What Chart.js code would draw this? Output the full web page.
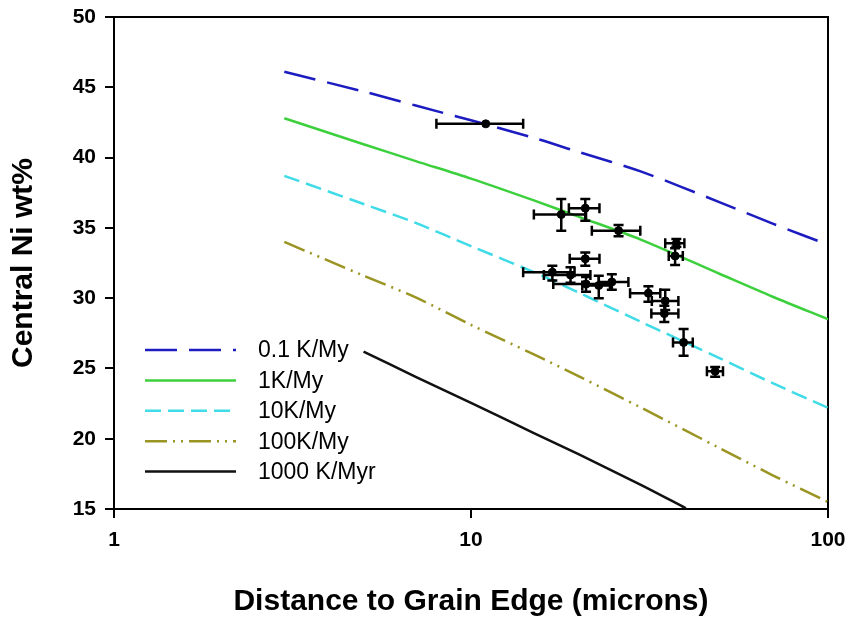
<!DOCTYPE html>
<html>
<head>
<meta charset="utf-8">
<script src="https://cdn.jsdelivr.net/npm/chart.js@4"></script>
<style>
  html, body { margin: 0; background: #fff; }
  #wrap { width: 852px; height: 624px; }
</style>
</head>
<body>
<div id="wrap"><canvas id="grafico"></canvas></div>
<script>
// Model curves (x = distance in microns, y = central Ni wt%)
const curveX = [3, 5, 7, 10, 15, 20, 30, 50, 70, 100];
const rate01 = [46.1, 44.7, 43.7, 42.65, 41.4, 40.4, 39.0, 36.8, 35.3, 33.8];
const rate1 = [42.8, 40.95, 39.75, 38.5, 36.95, 35.8, 34.15, 31.7, 30.1, 28.5];
const rate10 = [38.7, 36.7, 35.35, 33.7, 31.85, 30.4, 28.3, 25.7, 23.95, 22.2];
const rate100 = [34.0, 31.6, 30.05, 28.1, 26.0, 24.45, 22.2, 19.3, 17.4, 15.5];
const blackX = [5, 7, 10, 15, 20, 30, 40];
const rate1000 = [26.2, 24.4, 22.55, 20.4, 18.9, 16.7, 15.05];

// Measured grains with error bars
const grainX = [11.0, 17.9, 20.9, 25.9, 20.9, 16.9, 19.0, 21.0, 22.8, 24.8, 37.6, 37.3, 31.4, 35.0, 34.8, 39.4, 48.3];
const grainY = [42.4, 35.95, 36.4, 34.8, 32.8, 31.85, 31.65, 31.0, 30.9, 31.15, 33.9, 33.0, 30.35, 29.8, 28.9, 26.85, 24.8];
const xLow = [8.0, 15.0, 18.8, 21.8, 18.9, 14.0, 16.0, 17.0, 20.5, 22.8, 35.0, 35.8, 27.9, 32.1, 32.0, 36.8, 45.8];
const xHigh = [14.0, 21.0, 22.9, 29.8, 22.9, 19.5, 21.6, 24.5, 24.8, 27.6, 39.6, 39.2, 33.9, 38.1, 38.1, 41.8, 50.8];
const yLow = [42.4, 34.8, 35.5, 34.4, 32.3, 31.25, 31.1, 30.45, 30.0, 30.6, 33.65, 32.35, 29.75, 29.15, 28.3, 25.9, 24.4];
const yHigh = [42.4, 37.05, 37.05, 35.2, 33.25, 32.3, 32.2, 31.5, 31.6, 31.7, 34.2, 33.55, 30.85, 30.6, 29.45, 27.8, 25.1];

const xTicks = [1, 10, 100];
const legendLabels = ["0.1 K/My", "1K/My", "10K/My", "100K/My", "1000 K/Myr"];

const fonte = "'Liberation Sans', Arial, sans-serif";

function linha(xs, ys) {
  return xs.map((x, i) => ({ x: x, y: ys[i] }));
}

const curvas = [
  { data: linha(curveX, rate01), borderColor: "#1c1cc0", borderDash: [32, 12] },
  { data: linha(curveX, rate1), borderColor: "#3dd03d", borderDash: [] },
  { data: linha(curveX, rate10), borderColor: "#3fdbe6", borderDash: [16, 7] },
  { data: linha(curveX, rate100), borderColor: "#9a9422", borderDash: [22, 6, 2, 6, 2, 6] },
  { data: linha(blackX, rate1000), borderColor: "#111111", borderDash: [] },
];

// Moldura em volta da área do gráfico
const moldura = {
  id: "moldura",
  beforeDatasetsDraw(chart) {
    const a = chart.chartArea;
    const ctx = chart.ctx;
    ctx.save();
    ctx.strokeStyle = "#000";
    ctx.lineWidth = 2;
    ctx.strokeRect(a.left, a.top, a.right - a.left, a.bottom - a.top);
    ctx.restore();
  },
};

// Barras de erro desenhadas pelas escalas do chart
const barrasErro = {
  id: "barrasErro",
  afterDatasetsDraw(chart) {
    const sx = chart.scales.x;
    const sy = chart.scales.y;
    const ctx = chart.ctx;
    ctx.save();
    ctx.strokeStyle = "#000";
    ctx.lineWidth = 2.5;
    for (let i = 0; i < grainX.length; i++) {
      const px = sx.getPixelForValue(grainX[i]);
      const py = sy.getPixelForValue(grainY[i]);
      const x0 = sx.getPixelForValue(xLow[i]);
      const x1 = sx.getPixelForValue(xHigh[i]);
      const y0 = sy.getPixelForValue(yLow[i]);
      const y1 = sy.getPixelForValue(yHigh[i]);
      ctx.beginPath();
      ctx.moveTo(x0, py); ctx.lineTo(x1, py);
      ctx.moveTo(x0, py - 5); ctx.lineTo(x0, py + 5);
      ctx.moveTo(x1, py - 5); ctx.lineTo(x1, py + 5);
      if (y0 - y1 > 1) {
        ctx.moveTo(px, y0); ctx.lineTo(px, y1);
        ctx.moveTo(px - 5, y0); ctx.lineTo(px + 5, y0);
        ctx.moveTo(px - 5, y1); ctx.lineTo(px + 5, y1);
      }
      ctx.stroke();
    }
    ctx.restore();
  },
};

// Legenda dentro da área do gráfico
const legenda = {
  id: "legenda",
  afterDraw(chart) {
    const ctx = chart.ctx;
    ctx.save();
    ctx.font = "23px " + fonte;
    ctx.textBaseline = "middle";
    ctx.fillStyle = "#000";
    curvas.forEach((c, i) => {
      const y = 350 + i * 30.4;
      ctx.strokeStyle = c.borderColor;
      ctx.lineWidth = 2.5;
      ctx.setLineDash(c.borderDash);
      ctx.beginPath();
      ctx.moveTo(145, y);
      ctx.lineTo(236, y);
      ctx.stroke();
      ctx.setLineDash([]);
      ctx.fillText(legendLabels[i], 258, y + 1);
    });
    ctx.restore();
  },
};

const eixo = {
  grid: { display: true, drawOnChartArea: false, drawTicks: true, tickLength: 9, color: "#000", lineWidth: 2 },
  border: { display: true, color: "#000", width: 2 },
};

new Chart(document.querySelector("#grafico"), {
  type: "scatter",
  data: {
    datasets: [
      {
        data: linha(grainX, grainY),
        showLine: false,
        pointRadius: 4,
        pointBackgroundColor: "#000",
        pointBorderColor: "#000",
      },
      ...curvas.map((c) => ({
        data: c.data,
        showLine: true,
        borderColor: c.borderColor,
        borderDash: c.borderDash,
        borderWidth: 2.5,
        pointRadius: 0,
        tension: 0.3,
        fill: false,
      })),
    ],
  },
  options: {
    responsive: true,
    maintainAspectRatio: false,
    animation: false,
    devicePixelRatio: 1,
    layout: { padding: { top: 17, right: 24, left: 0, bottom: 0 } },
    plugins: { legend: { display: false }, tooltip: { enabled: false } },
    scales: {
      x: {
        type: "logarithmic",
        min: 1,
        max: 100,
        afterBuildTicks(scale) {
          scale.ticks = xTicks.map((v) => ({ value: v }));
        },
        afterFit(scale) {
          scale.height = 115;
          scale.paddingLeft = 0;
          scale.paddingRight = 0;
        },
        ticks: {
          color: "#000",
          font: { family: fonte, size: 21, weight: "bold" },
          padding: 10,
          maxRotation: 0,
          callback: (v) => String(v),
        },
        title: {
          display: true,
          text: "Distance to Grain Edge (microns)",
          color: "#000",
          font: { family: fonte, size: 30, weight: "bold" },
          padding: { top: 0, bottom: 4 },
        },
        ...eixo,
      },
      y: {
        type: "linear",
        min: 15,
        max: 50,
        afterFit(scale) {
          scale.width = 114;
          scale.paddingTop = 0;
          scale.paddingBottom = 0;
        },
        ticks: {
          stepSize: 5,
          color: "#000",
          font: { family: fonte, size: 21, weight: "bold" },
          padding: 9,
        },
        title: {
          display: true,
          text: "Central Ni wt%",
          color: "#000",
          font: { family: fonte, size: 30, weight: "bold" },
          padding: { top: 6, bottom: 0 },
        },
        ...eixo,
      },
    },
  },
  plugins: [moldura, barrasErro, legenda],
});
</script>
</body>
</html>
